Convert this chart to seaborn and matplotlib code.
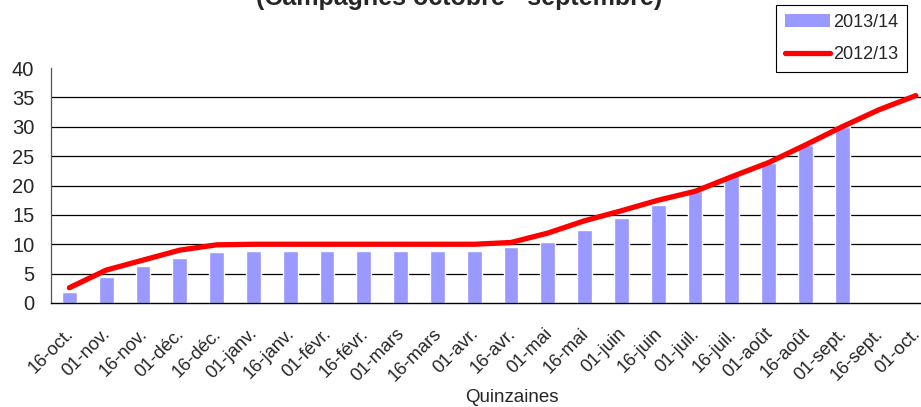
import pandas as pd
import numpy as np
import matplotlib
matplotlib.use("Agg")
import matplotlib.pyplot as plt
import seaborn as sns
from matplotlib.patches import Patch
from matplotlib.lines import Line2D

# --- DATEN ---
quinzaines = ["16-oct.", "01-nov.", "16-nov.", "01-déc.", "16-déc.", "01-janv.",
              "16-janv.", "01-févr.", "16-févr.", "01-mars", "16-mars", "01-avr.",
              "16-avr.", "01-mai", "16-mai", "01-juin", "16-juin", "01-juil.",
              "16-juil.", "01-août", "16-août", "01-sept.", "16-sept.", "01-oct."]

# 2013/14 (Balken), nur bis 01-sept.
valeurs_1314 = [1.9, 4.4, 6.3, 7.7, 8.6, 8.9, 8.9, 8.9, 8.9, 8.9, 8.9, 8.9,
                9.5, 10.4, 12.4, 14.4, 16.7, 19.0, 21.7, 23.9, 26.9, 30.0]

# 2012/13 (Linie)
valeurs_1213 = [2.6, 5.6, 7.3, 9.0, 9.9, 10.0, 10.0, 10.0, 10.0, 10.0, 10.0, 10.0,
                10.3, 11.9, 14.0, 15.7, 17.5, 19.0, 21.5, 23.9, 26.9, 30.0, 32.9, 35.3]

yticks = [0, 5, 10, 15, 20, 25, 30, 35, 40]

bar_color = "#9999FF"
line_color = "#FF0000"

sns.set_style("white")
plt.rcParams['font.family'] = ['Liberation Sans', 'DejaVu Sans']

df_bars = pd.DataFrame({"quinzaine": quinzaines[:len(valeurs_1314)], "val": valeurs_1314})
df_line = pd.DataFrame({"quinzaine": quinzaines, "val": valeurs_1213})

fig = plt.figure(figsize=(9.21, 4.07), dpi=100)
ax_w = 24 * 36.8 / 921
ax = fig.add_axes([51 / 921, 1 - 303 / 407, ax_w, (303 - 68) / 407])

sns.barplot(data=df_bars, x="quinzaine", y="val", order=quinzaines, color=bar_color,
            saturation=1, width=0.4, errorbar=None, ax=ax, zorder=2)
ax.plot(np.arange(len(quinzaines)), df_line["val"], color=line_color, lw=3.8,
        solid_capstyle="round", solid_joinstyle="round", zorder=3)

ax.set_xlim(-0.5, len(quinzaines) - 0.5)
ax.set_ylim(0, 40)
ax.set_yticks(yticks)
ax.set_yticklabels([str(v) for v in yticks], fontsize=14.5)
for v in yticks[1:-1]:
    ax.axhline(v, color="black", lw=0.9, zorder=1)

# Beschriftungen etwas links von der Mitte, damit "01-oct." ganz sichtbar bleibt
ax.set_xticks(np.arange(len(quinzaines)) - 0.12)
ax.set_xticklabels(quinzaines, rotation=45, ha="right", rotation_mode="anchor", fontsize=13.2)
ax.set_xticks(np.arange(len(quinzaines) + 1) - 0.5, minor=True)
ax.tick_params(axis="x", which="major", length=0, pad=16)
ax.tick_params(axis="x", which="minor", length=5, color="#555555", width=0.9, direction="out")
ax.tick_params(axis="y", length=6, color="#555555", width=0.9, direction="out", pad=6)

for s in ["top", "right"]:
    ax.spines[s].set_visible(False)
ax.spines["left"].set_color("#555555")
ax.spines["bottom"].set_color("black")
ax.spines["left"].set_linewidth(0.9)
ax.spines["bottom"].set_linewidth(1.0)

ax.set_xlabel("Quinzaines", fontsize=13.5)
ax.xaxis.set_label_coords((512 - 51) / (24 * 36.8), -86 / 235)
ax.set_ylabel("")

# Titel oben abgeschnitten wie im Original
fig.text(459 / 921, 1 - 5 / 407, "(Campagnes octobre - septembre)", ha="center", va="baseline",
         fontsize=18, fontweight="bold")

handles = [Patch(facecolor=bar_color, edgecolor="none"),
           Line2D([0], [0], color=line_color, lw=3.8)]
leg = fig.legend(handles, ["2013/14", "2012/13"], loc="upper right",
                 bbox_to_anchor=(907 / 921, 1 - 5 / 407), frameon=True, fancybox=False,
                 edgecolor="black", framealpha=1, fontsize=13, handlelength=2.5,
                 handletextpad=0.15, borderpad=0.5, labelspacing=0.85, borderaxespad=0)
leg.get_frame().set_linewidth(0.8)

fig.savefig("out.png", dpi=100)
